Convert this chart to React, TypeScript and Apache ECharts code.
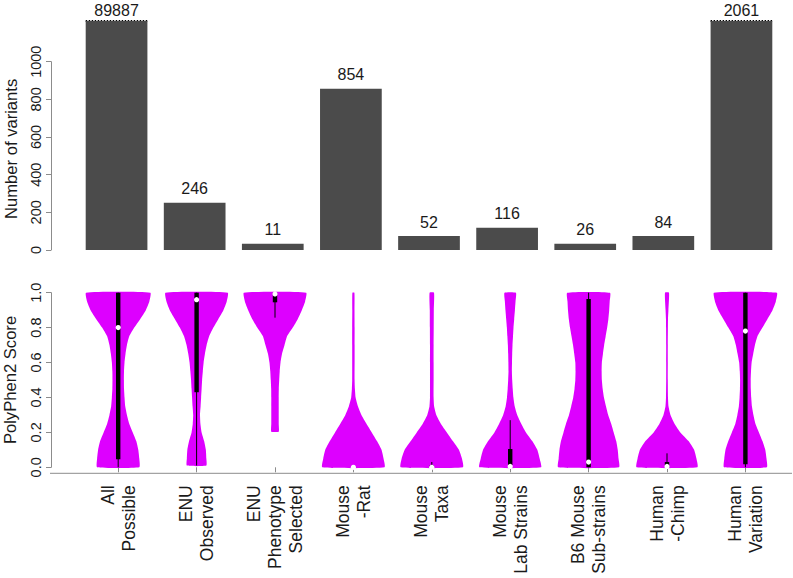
import React, { useEffect, useRef } from "react";
import * as echarts from "echarts";

// ---------- data ----------
const categories = [
  "All\nPossible",
  "ENU\nObserved",
  "ENU\nPhenotype\nSelected",
  "Mouse\n-Rat",
  "Mouse\nTaxa",
  "Mouse\nLab Strains",
  "B6 Mouse\nSub-strains",
  "Human\n-Chimp",
  "Human\nVariation",
];

// printed counts above the bars
const variantCounts = [89887, 246, 11, 854, 52, 116, 26, 84, 2061];
// drawn bar heights (first and last are truncated)
const barHeights = [1216, 251, 33, 856, 74, 118, 33, 74, 1216];
const truncated = [true, false, false, false, false, false, false, false, true];

const countTicks = [0, 200, 400, 600, 800, 1000];
const scoreTicks = [0, 0.2, 0.4, 0.6, 0.8, 1.0];

// violin profiles: [PolyPhen2 score, relative density]
const violinAllPossible = [[0, 21], [0.05, 21], [0.1, 20], [0.15, 18], [0.2, 14.5], [0.25, 11], [0.3, 8.7], [0.35, 7], [0.4, 6.3], [0.45, 5.8], [0.5, 5.7], [0.55, 5.8], [0.6, 6.3], [0.65, 7.3], [0.7, 8.7], [0.75, 11], [0.8, 16], [0.85, 22], [0.9, 27.5], [0.95, 31], [1, 32]];
const violinEnuObserved = [[0.01, 9.7], [0.05, 9.7], [0.1, 9.2], [0.15, 7.5], [0.2, 5], [0.25, 3.8], [0.3, 3.4], [0.35, 4], [0.4, 4.5], [0.45, 5], [0.5, 5.5], [0.55, 6.2], [0.6, 7], [0.65, 8.3], [0.7, 10], [0.75, 12.5], [0.8, 16.7], [0.85, 21.7], [0.9, 26.7], [0.95, 30], [1, 31]];
const violinEnuPhenotype = [[0.204, 3.7], [0.25, 3.7], [0.3, 3.7], [0.35, 3.7], [0.4, 3.7], [0.45, 3.8], [0.5, 4.2], [0.55, 4.7], [0.6, 5.5], [0.65, 7], [0.7, 9.5], [0.75, 12], [0.8, 17.7], [0.85, 22.7], [0.9, 26.7], [0.95, 30], [1, 31]];
const violinMouseRat = [[0, 31], [0.05, 30], [0.1, 28], [0.15, 23.5], [0.2, 18.3], [0.25, 13], [0.3, 8], [0.35, 4.5], [0.4, 2.2], [0.45, 1.5], [0.5, 1.2], [0.6, 1.2], [0.7, 1.2], [0.8, 1.2], [0.9, 1.1], [1, 1]];
const violinMouseTaxa = [[0, 31], [0.05, 30], [0.1, 27], [0.15, 21], [0.2, 15], [0.25, 9], [0.3, 4.5], [0.35, 2.3], [0.4, 1.8], [0.5, 1.8], [0.6, 1.8], [0.7, 1.8], [0.8, 1.9], [0.9, 2], [1, 2.2]];
const violinLabStrains = [[0, 30.7], [0.05, 29.3], [0.1, 27], [0.15, 22], [0.2, 15.7], [0.25, 11], [0.3, 7], [0.35, 4.5], [0.4, 3.2], [0.45, 2.5], [0.5, 2], [0.55, 1.7], [0.6, 1.8], [0.65, 2], [0.7, 2.3], [0.75, 2.8], [0.8, 3.3], [0.85, 4], [0.9, 4.7], [0.95, 5.3], [1, 5.7]];
const violinB6Sub = [[0, 30.3], [0.05, 29.8], [0.1, 29], [0.15, 27.5], [0.2, 25], [0.25, 22.5], [0.3, 19.5], [0.35, 17.3], [0.4, 15.3], [0.45, 14], [0.5, 13.2], [0.55, 13], [0.6, 13.2], [0.65, 14.3], [0.7, 15.5], [0.75, 17], [0.8, 18.5], [0.85, 19.7], [0.9, 20.5], [0.95, 21], [1, 21.3]];
const violinHumanChimp = [[0, 30.3], [0.05, 29.3], [0.1, 27], [0.15, 21.5], [0.2, 13.3], [0.25, 7.5], [0.3, 3.5], [0.35, 1.5], [0.4, 1], [0.5, 0.8], [0.6, 0.8], [0.7, 0.8], [0.8, 0.9], [0.85, 1], [0.9, 1.4], [1, 2]];
const violinHumanVar = [[0, 21.3], [0.05, 21], [0.1, 19.8], [0.15, 17], [0.2, 13.5], [0.25, 10], [0.3, 8], [0.35, 6.5], [0.4, 5.8], [0.45, 5.4], [0.5, 5.3], [0.55, 5.6], [0.6, 6.2], [0.65, 7.8], [0.7, 9.5], [0.75, 12], [0.8, 17], [0.85, 22], [0.9, 27], [0.95, 30.3], [1, 31.3]];

const violinProfiles = [
  violinAllPossible, violinEnuObserved, violinEnuPhenotype, violinMouseRat, violinMouseTaxa,
  violinLabStrains, violinB6Sub, violinHumanChimp, violinHumanVar,
];
const densityMax = 32;

// box-plot statistics
const whiskerLow = [0, 0.01, 0.857, 0, 0, 0, 0, 0, 0];
const whiskerHigh = [1, 1, 1, 0.01, 0.03, 0.27, 1, 0.08, 1];
const boxLow = [0.046, 0.43, 0.945, 0, 0, 0.013, 0, 0, 0.017];
const boxHigh = [1, 1, 1, 0.003, 0.012, 0.105, 0.964, 0.03, 1];
const medians = [0.8, 0.96, 0.993, 0, 0, 0.005, 0.03, 0.005, 0.78];

// ---------- style ----------
const FONT = "'Liberation Sans', Arial, Helvetica, sans-serif";
const TEXT = "#1a1a1a";
const AXIS = "#8c8c8c";
const BAR = "#4b4b4b";
const VIOLIN = "#dd00ff";

export default function App() {
  const ref = useRef<HTMLDivElement>(null);

  useEffect(() => {
    if (!ref.current) return;
    const chart = echarts.init(ref.current, null, { renderer: "svg" });

    const axisLabelBase = { color: TEXT, fontFamily: FONT };

    const option: any = {
      animation: false,
      backgroundColor: "#fff",
      grid: [
        { left: 77.5, top: 61.7, width: 703, height: 188.3, outerBoundsMode: "none", containLabel: false },
        { left: 79, top: 292.7, width: 705.6, height: 174.6, outerBoundsMode: "none", containLabel: false },
      ],
      xAxis: [
        { type: "category", gridIndex: 0, data: categories, show: false },
        {
          type: "category",
          gridIndex: 1,
          data: categories,
          offset: 6,
          axisLine: { show: false },
          axisTick: { show: true, alignWithLabel: true, length: 5, lineStyle: { color: AXIS } },
          axisLabel: {
            ...axisLabelBase,
            interval: 0,
            rotate: 90,
            margin: 12,
            fontSize: 17.5,
            lineHeight: 21,
          },
        },
      ],
      yAxis: [
        {
          type: "value",
          gridIndex: 0,
          min: 0,
          max: 1000,
          interval: 200,
          offset: 26.5,
          name: "Number of variants",
          nameLocation: "middle",
          nameGap: 31,
          nameTextStyle: { color: TEXT, fontFamily: FONT, fontSize: 16.6, padding: [0, 0, 0, 14] },
          splitLine: { show: false },
          axisLine: { show: true, lineStyle: { color: AXIS } },
          axisTick: { show: true, length: 5, lineStyle: { color: AXIS } },
          axisLabel: {
            ...axisLabelBase,
            fontSize: 14.5,
            rotate: 90,
            margin: 8,
            formatter: (v: number) => (countTicks.includes(v) ? String(v) : ""),
          },
        },
        {
          type: "value",
          gridIndex: 1,
          min: 0,
          max: 1,
          interval: 0.2,
          offset: 28,
          name: "PolyPhen2 Score",
          nameLocation: "middle",
          nameGap: 32,
          nameTextStyle: { color: TEXT, fontFamily: FONT, fontSize: 16.6 },
          splitLine: { show: false },
          axisLine: { show: true, lineStyle: { color: AXIS } },
          axisTick: { show: true, length: 5, lineStyle: { color: AXIS } },
          axisLabel: {
            ...axisLabelBase,
            fontSize: 14.5,
            rotate: 90,
            margin: 8,
            formatter: (v: number) =>
              scoreTicks.some((t) => Math.abs(t - v) < 1e-9) ? v.toFixed(1) : "",
          },
        },
      ],
      series: [
        {
          type: "bar",
          xAxisIndex: 0,
          yAxisIndex: 0,
          barWidth: "79%",
          clip: false,
          itemStyle: { color: BAR },
          data: barHeights.map((h, i) => ({
            value: h,
            label: {
              show: true,
              position: "top",
              distance: truncated[i] ? 3 : 6,
              formatter: String(variantCounts[i]),
              color: TEXT,
              fontFamily: FONT,
              fontSize: 16,
            },
          })),
        },
        {
          type: "custom",
          xAxisIndex: 0,
          yAxisIndex: 0,
          clip: false,
          data: barHeights
            .map((h, i) => [i, h])
            .filter((_, i) => truncated[i]),
          encode: { x: 0, y: 1 },
          renderItem: (params: any, api: any) => {
            const p = api.coord([api.value(0), api.value(1)]);
            const w = api.size([1, 0])[0] * 0.79;
            return {
              type: "line",
              shape: { x1: p[0] - w / 2, y1: p[1], x2: p[0] + w / 2, y2: p[1] },
              style: { stroke: "#000", lineWidth: 2, lineDash: [1.5, 1.5] },
            };
          },
        },
        {
          type: "custom",
          xAxisIndex: 1,
          yAxisIndex: 1,
          clip: false,
          data: categories.map((_, i) => [i, 0]),
          encode: { x: 0, y: 1 },
          renderItem: (params: any, api: any) => {
            const i = api.value(0);
            const prof = violinProfiles[i];
            const band = api.size([1, 0])[0];
            const scale = (band * 0.41) / densityMax;
            const cx = api.coord([i, 0])[0];
            const y = (v: number) => api.coord([i, v])[1];
            const right = prof.map(([v, d]) => [cx + d * scale, y(v)]);
            const left = prof
              .slice()
              .reverse()
              .map(([v, d]) => [cx - d * scale, y(v)]);
            const boxTop = y(boxHigh[i]);
            const boxBot = y(boxLow[i]);
            return {
              type: "group",
              children: [
                {
                  type: "polygon",
                  shape: { points: right.concat(left), smooth: 0.15 },
                  style: { fill: VIOLIN },
                },
                {
                  type: "line",
                  shape: { x1: cx, y1: y(whiskerLow[i]), x2: cx, y2: y(whiskerHigh[i]) },
                  style: { stroke: "#000", lineWidth: 1 },
                },
                {
                  type: "rect",
                  shape: { x: cx - 2.2, y: boxTop, width: 4.4, height: Math.max(boxBot - boxTop, 0.5) },
                  style: { fill: "#000" },
                },
                {
                  type: "circle",
                  shape: { cx, cy: y(medians[i]), r: 2.6 },
                  style: { fill: "#fff" },
                },
              ],
            };
          },
        },
      ],
      graphic: [
        {
          type: "line",
          shape: { x1: 50, y1: 473.3, x2: 792, y2: 473.3 },
          style: { stroke: AXIS, lineWidth: 1 },
          silent: true,
        },
      ],
    };

    chart.setOption(option);
    return () => chart.dispose();
  }, []);

  return (
    <div
      ref={ref}
      style={{ position: "fixed", left: 0, top: 0, width: 793, height: 578, background: "#fff" }}
    />
  );
}
